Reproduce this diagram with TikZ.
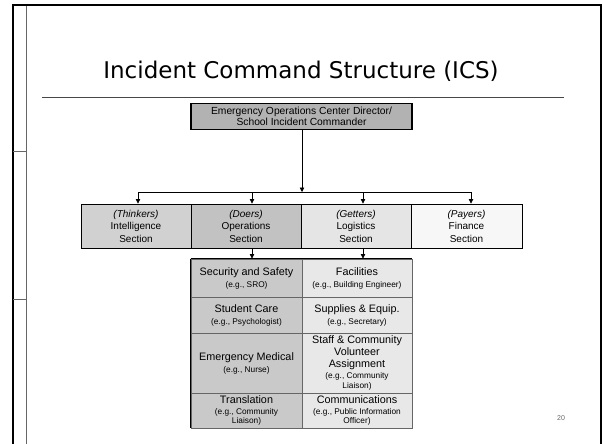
\documentclass[tikz,border=0pt]{standalone}
\usepackage{fontspec}
\setmainfont{Liberation Sans}
\newfontfamily\titlefont{DejaVu Sans}
\usetikzlibrary{arrows.meta}
\definecolor{topfill}{gray}{0.70}
\definecolor{intfill}{gray}{0.82}
\definecolor{opsfill}{gray}{0.76}
\definecolor{logfill}{gray}{0.90}
\definecolor{finfill}{gray}{0.97}
\definecolor{subL}{gray}{0.79}
\definecolor{subR}{gray}{0.91}
\definecolor{frameg}{gray}{0.40}
\tikzset{
  secbox/.style={draw=black, line width=0.9pt, inner sep=0pt, align=center,
    minimum width=110pt, minimum height=44pt, font=\fontsize{10}{12.5}\selectfont},
  cellbox/.style={draw=frameg, line width=0.9pt, inner sep=0pt, align=center,
    minimum height=#1, font=\fontsize{10.8}{12}\selectfont},
  conn/.style={line width=0.7pt, -{Triangle[length=4.5pt,width=4.5pt]}},
  plainline/.style={line width=0.7pt}
}
\newcommand{\smalltxt}[1]{{\fontsize{8.3}{9.5}\selectfont #1}}
\begin{document}
\begin{tikzpicture}[x=1pt,y=-1pt]
\useasboundingbox (0,0) rectangle (602,444);
% slide frame
\draw[line width=2pt] (13,444) -- (13,5) -- (601,5) -- (601,444);
\draw[frameg, line width=1pt] (26,6) -- (26,444);
\draw[frameg, line width=1pt] (13,151) -- (26,151);
\draw[frameg, line width=1pt] (13,299) -- (26,299);
% title
\node[anchor=base, inner sep=0pt, font=\titlefont\fontsize{23}{26}\selectfont] (title) at (301,78) {Incident Command Structure (ICS)};
\draw[frameg!70!black, line width=1pt] (42,97) -- (564,97);
% top box
\node[draw=black, line width=1.6pt, fill=topfill, inner sep=0pt, align=center,
  minimum width=221pt, minimum height=26pt, font=\fontsize{10.3}{11.5}\selectfont]
  (eoc) at (301.5,116.5) {Emergency Operations Center Director/\\School Incident Commander};
% sections
\node[secbox, fill=intfill] (int) at (136,226) {\textit{(Thinkers)}\\Intelligence\\Section};
\node[secbox, fill=opsfill] (ops) at (246,226) {\textit{(Doers)}\\Operations\\Section};
\node[secbox, fill=logfill] (log) at (356,226) {\textit{(Getters)}\\Logistics\\Section};
\node[secbox, fill=finfill, minimum width=111pt] (fin) at (466.5,226) {\textit{(Payers)}\\Finance\\Section};
% bus
\coordinate (busL) at (138,192);
\coordinate (busR) at (471,192);
\coordinate (busM) at (302,192);
\draw[conn] (eoc.south -| busM) -- (busM);
\draw[plainline] (busL) -- (busR);
\draw[conn] (busL) -- (busL |- int.north);
\draw[conn] (busR) -- (busR |- fin.north);
\draw[conn] ([xshift=6pt]ops.north |- busL) -- ([xshift=6pt]ops.north);
\draw[conn] ([xshift=7pt]log.north |- busL) -- ([xshift=7pt]log.north);
% sub cells: left column
\node[cellbox=38pt, fill=subL, minimum width=111pt] (sec) at (246.5,278) {Security and Safety\\\smalltxt{(e.g., SRO)}};
\node[cellbox=36pt, fill=subL, minimum width=111pt] (stu) at (246.5,315) {Student Care\\\smalltxt{(e.g., Psychologist)}};
\node[cellbox=60pt, fill=subL, minimum width=111pt] (med) at (246.5,363) {Emergency Medical\\\smalltxt{(e.g., Nurse)}};
\node[cellbox=35pt, fill=subL, minimum width=111pt] (tra) at (246.5,410.5) {Translation\\[-1.5pt]\smalltxt{(e.g., Community}\\[-2.5pt]\smalltxt{Liaison)}};
% right column
\node[cellbox=38pt, fill=subR, minimum width=110pt] (fac) at (357,278) {Facilities\\\smalltxt{(e.g., Building Engineer)}};
\node[cellbox=36pt, fill=subR, minimum width=110pt] (sup) at (357,315) {Supplies \& Equip.\\\smalltxt{(e.g., Secretary)}};
\node[cellbox=60pt, fill=subR, minimum width=110pt] (sta) at (357,363) {Staff \& Community\\Volunteer\\Assignment\\[-1pt]\smalltxt{(e.g., Community}\\[-2pt]\smalltxt{Liaison)}};
\node[cellbox=35pt, fill=subR, minimum width=110pt] (com) at (357,410.5) {Communications\\[-1.5pt]\smalltxt{(e.g., Public Information}\\[-2.5pt]\smalltxt{Officer)}};
\draw[line width=1.5pt] (sec.north west) -- (fac.north east);
\draw[line width=0.9pt] (sec.north west) -- (tra.south west);
% connectors to sub table
\draw[conn] ([xshift=6pt]ops.south) -- ([xshift=6pt]ops.south |- sec.north);
\draw[conn] ([xshift=7pt]log.south) -- ([xshift=7pt]log.south |- fac.north);
% page number
\node[font=\fontsize{7}{8}\selectfont, text=frameg] (pg) at (561,418) {20};
\end{tikzpicture}
\end{document}
